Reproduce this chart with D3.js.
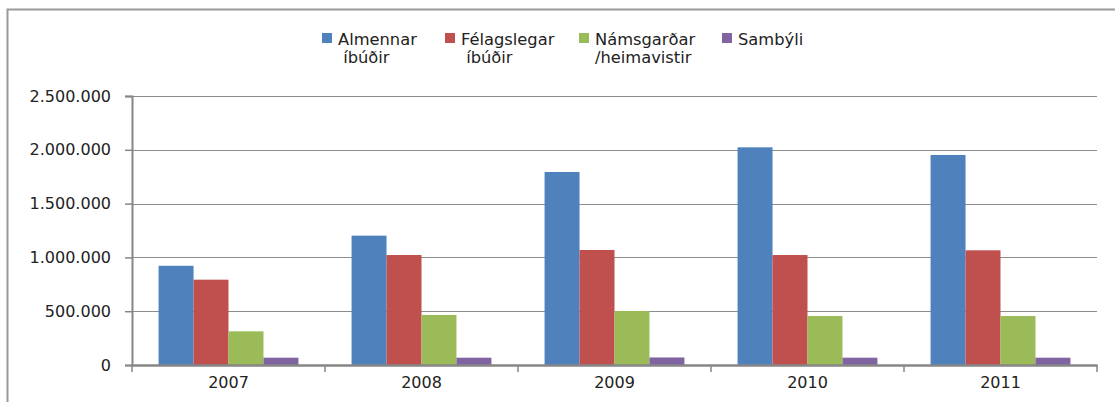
<!DOCTYPE html>
<html>
<head>
<meta charset="utf-8">
<script src="https://cdn.jsdelivr.net/npm/d3@7"></script>
<style>
  body { margin: 0; background: #fff; }
  svg text { font-family: "DejaVu Sans", Verdana, sans-serif; fill: #222; }
</style>
</head>
<body>
<div id="vis"></div>
<script>
const width = 1115;
const height = 402;

// data
const years = ['2007', '2008', '2009', '2010', '2011'];
const seriesNames = ['Almennar íbúðir', 'Félagslegar íbúðir', 'Námsgarðar /heimavistir', 'Sambýli'];
const almennar = [922000, 1202000, 1794000, 2023000, 1952000];
const felagslegar = [793000, 1022000, 1069000, 1022000, 1066000];
const namsgardar = [313000, 465000, 502000, 455000, 455000];
const sambyli = [68000, 68000, 70000, 68000, 68000];
const yTicks = [0, 500000, 1000000, 1500000, 2000000, 2500000];

// legend text as it wraps in the original
const legendLines = [['Almennar', ' íbúðir'], ['Félagslegar', ' íbúðir'], ['Námsgarðar', '/heimavistir'], ['Sambýli']];
const colours = ['#4f81bd', '#c0504d', '#9bbb59', '#8064a2'];

const seriesValues = [almennar, felagslegar, namsgardar, sambyli];

const margin = { top: 96, right: 18, bottom: 37, left: 132 };

const svg = d3.select('#vis')
  .append('svg')
  .attr('width', width)
  .attr('height', height);

// outer frame (top and left only visible)
svg.append('path')
  .attr('d', `M7.5,${height} V9.5 H${width}`)
  .attr('fill', 'none')
  .attr('stroke', '#9a9a9a')
  .attr('stroke-width', 2);

const x0 = d3.scaleBand()
  .domain(years)
  .range([margin.left, width - margin.right]);

const x1 = d3.scaleBand()
  .domain(d3.range(seriesNames.length))
  .range([0, x0.bandwidth()])
  .paddingOuter(0.76)
  .paddingInner(0);

const y = d3.scaleLinear()
  .domain([0, 2500000])
  .range([height - margin.bottom, margin.top]);

const fmt = v => d3.format(',')(v).replace(/,/g, '.');

// gridlines
svg.append('g')
  .selectAll('line')
  .data(yTicks.slice(1))
  .join('line')
  .attr('x1', margin.left)
  .attr('x2', width - margin.right)
  .attr('y1', d => Math.round(y(d)) + 0.5)
  .attr('y2', d => Math.round(y(d)) + 0.5)
  .attr('stroke', '#8c8c8c')
  .attr('stroke-width', 1.2);

// bars
const groups = svg.append('g')
  .selectAll('g')
  .data(years)
  .join('g')
  .attr('transform', d => `translate(${x0(d)},0)`);

groups.selectAll('rect')
  .data((d, i) => seriesValues.map((s, k) => ({ k: k, value: s[i] })))
  .join('rect')
  .attr('x', d => x1(d.k))
  .attr('width', x1.bandwidth())
  .attr('y', d => y(d.value))
  .attr('height', d => y(0) - y(d.value))
  .attr('fill', d => colours[d.k]);

// y axis
const yAxis = svg.append('g')
  .attr('transform', `translate(${margin.left},0)`)
  .call(d3.axisLeft(y).tickValues(yTicks).tickFormat(fmt).tickSize(7).tickPadding(14));
yAxis.select('.domain').attr('stroke', '#868686').attr('stroke-width', 2);
yAxis.selectAll('.tick line').attr('stroke', '#868686').attr('stroke-width', 1.5);
yAxis.selectAll('.tick text')
  .style('font-size', '16px')
  .attr('fill', '#222');

// x axis
const xAxis = svg.append('g')
  .attr('transform', `translate(0,${y(0)})`)
  .call(d3.axisBottom(x0).tickSize(0).tickPadding(12));
xAxis.select('.domain').attr('stroke', '#868686').attr('stroke-width', 2.5);
xAxis.selectAll('.tick text')
  .style('font-size', '16px')
  .attr('fill', '#222');

// category separators, including one under the origin
const edges = [x0.range()[0]].concat(years.map(d => x0(d) + x0.bandwidth()));
svg.append('g')
  .selectAll('line')
  .data(edges)
  .join('line')
  .attr('x1', d => d)
  .attr('x2', d => d)
  .attr('y1', y(0))
  .attr('y2', y(0) + 7)
  .attr('stroke', '#868686')
  .attr('stroke-width', 1.5);

// legend
const legendX = [322, 445, 579, 722];
const legend = svg.append('g')
  .selectAll('g')
  .data(seriesNames)
  .join('g')
  .attr('transform', (d, i) => `translate(${legendX[i]},33)`);

legend.append('rect')
  .attr('width', 10)
  .attr('height', 10)
  .attr('fill', (d, i) => colours[i]);

legend.append('text')
  .attr('x', 17)
  .attr('y', 11.5)
  .style('font-size', '16.3px')
  .attr('xml:space', 'preserve')
  .selectAll('tspan')
  .data((d, i) => legendLines[i])
  .join('tspan')
  .attr('x', 16)
  .attr('dy', (d, j) => j === 0 ? 0 : 18)
  .style('white-space', 'pre')
  .text(d => d);
</script>
</body>
</html>
